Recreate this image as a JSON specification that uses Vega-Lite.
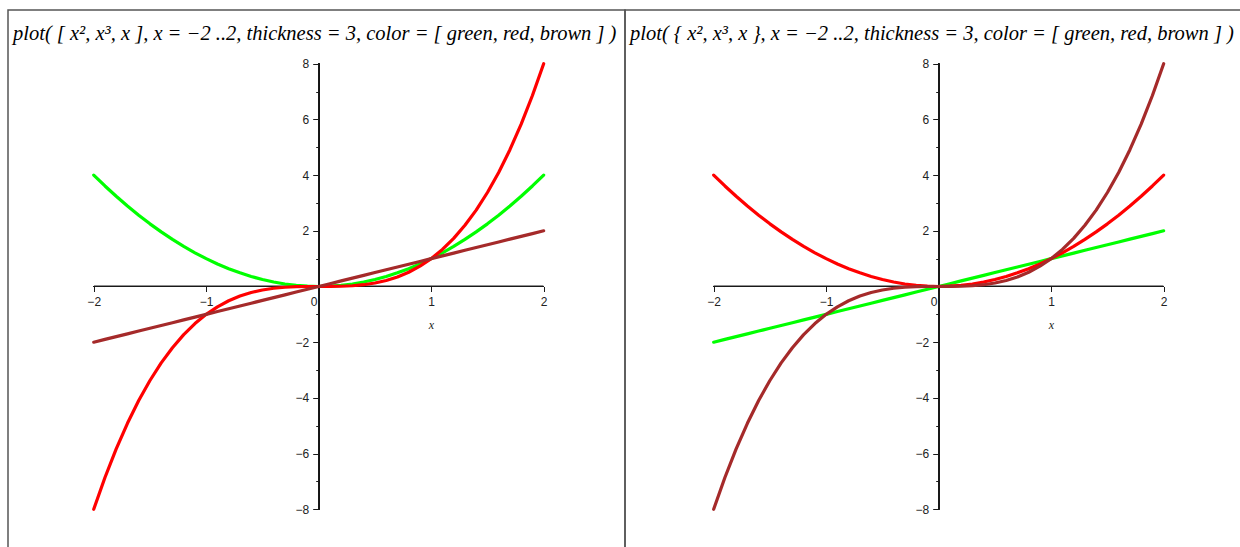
{
  "$schema": "https://vega.github.io/schema/vega-lite/v6.json",
  "padding": {"left": 7, "top": 9, "right": 0, "bottom": 0},
  "spacing": 0,
  "bounds": "flush",
  "config": {
    "view": {"stroke": "#555555", "strokeWidth": 1.5},
    "concat": {"spacing": 0},
    "axis": {"labelOverlap": false, "labelFlush": false, "grid": false, "domain": false, "tickCount": 100},
    "line": {"strokeWidth": 3.2, "strokeCap": "round", "strokeJoin": "round"}
  },
  "datasets": {
    "curves": [
      {"x": -2.0, "sq": 4.0, "cu": -8.0, "lin": -2.0},
      {"x": -1.9, "sq": 3.61, "cu": -6.859, "lin": -1.9},
      {"x": -1.8, "sq": 3.24, "cu": -5.832, "lin": -1.8},
      {"x": -1.7, "sq": 2.89, "cu": -4.913, "lin": -1.7},
      {"x": -1.6, "sq": 2.56, "cu": -4.096, "lin": -1.6},
      {"x": -1.5, "sq": 2.25, "cu": -3.375, "lin": -1.5},
      {"x": -1.4, "sq": 1.96, "cu": -2.744, "lin": -1.4},
      {"x": -1.3, "sq": 1.69, "cu": -2.197, "lin": -1.3},
      {"x": -1.2, "sq": 1.44, "cu": -1.728, "lin": -1.2},
      {"x": -1.1, "sq": 1.21, "cu": -1.331, "lin": -1.1},
      {"x": -1.0, "sq": 1.0, "cu": -1.0, "lin": -1.0},
      {"x": -0.9, "sq": 0.81, "cu": -0.729, "lin": -0.9},
      {"x": -0.8, "sq": 0.64, "cu": -0.512, "lin": -0.8},
      {"x": -0.7, "sq": 0.49, "cu": -0.343, "lin": -0.7},
      {"x": -0.6, "sq": 0.36, "cu": -0.216, "lin": -0.6},
      {"x": -0.5, "sq": 0.25, "cu": -0.125, "lin": -0.5},
      {"x": -0.4, "sq": 0.16, "cu": -0.064, "lin": -0.4},
      {"x": -0.3, "sq": 0.09, "cu": -0.027, "lin": -0.3},
      {"x": -0.2, "sq": 0.04, "cu": -0.008, "lin": -0.2},
      {"x": -0.1, "sq": 0.01, "cu": -0.001, "lin": -0.1},
      {"x": 0.0, "sq": 0.0, "cu": 0.0, "lin": 0.0},
      {"x": 0.1, "sq": 0.01, "cu": 0.001, "lin": 0.1},
      {"x": 0.2, "sq": 0.04, "cu": 0.008, "lin": 0.2},
      {"x": 0.3, "sq": 0.09, "cu": 0.027, "lin": 0.3},
      {"x": 0.4, "sq": 0.16, "cu": 0.064, "lin": 0.4},
      {"x": 0.5, "sq": 0.25, "cu": 0.125, "lin": 0.5},
      {"x": 0.6, "sq": 0.36, "cu": 0.216, "lin": 0.6},
      {"x": 0.7, "sq": 0.49, "cu": 0.343, "lin": 0.7},
      {"x": 0.8, "sq": 0.64, "cu": 0.512, "lin": 0.8},
      {"x": 0.9, "sq": 0.81, "cu": 0.729, "lin": 0.9},
      {"x": 1.0, "sq": 1.0, "cu": 1.0, "lin": 1.0},
      {"x": 1.1, "sq": 1.21, "cu": 1.331, "lin": 1.1},
      {"x": 1.2, "sq": 1.44, "cu": 1.728, "lin": 1.2},
      {"x": 1.3, "sq": 1.69, "cu": 2.197, "lin": 1.3},
      {"x": 1.4, "sq": 1.96, "cu": 2.744, "lin": 1.4},
      {"x": 1.5, "sq": 2.25, "cu": 3.375, "lin": 1.5},
      {"x": 1.6, "sq": 2.56, "cu": 4.096, "lin": 1.6},
      {"x": 1.7, "sq": 2.89, "cu": 4.913, "lin": 1.7},
      {"x": 1.8, "sq": 3.24, "cu": 5.832, "lin": 1.8},
      {"x": 1.9, "sq": 3.61, "cu": 6.859, "lin": 1.9},
      {"x": 2.0, "sq": 4.0, "cu": 8.0, "lin": 2.0}
    ]
  },
  "hconcat": [
    {
      "width": 617,
      "height": 545,
      "title": {
        "text": "plot(  [ x², x³, x ], x = −2 ..2, thickness = 3, color = [ green, red, brown ] )",
        "anchor": "start", "frame": "group", "offset": -50, "baseline": "alphabetic", "dx": 5,
        "font": "Liberation Serif", "fontStyle": "italic", "fontWeight": "normal", "fontSize": 20.5, "color": "#000000"
      },
      "data": {"name": "curves"},
      "layer": [
        {
          "mark": {"type": "rule", "color": "#1a1a1a", "strokeWidth": 1},
          "encoding": {
            "x": {"datum": -2, "type": "quantitative", "scale": {"domain": [-2.762, 2.723], "nice": false, "zero": false}},
            "x2": {"datum": 2},
            "y": {"datum": 0, "type": "quantitative", "scale": {"domain": [-9.641, 9.928], "nice": false, "zero": false}}
          }
        },
        {
          "mark": {"type": "rule", "color": "#1a1a1a", "strokeWidth": 1},
          "encoding": {
            "x": {"datum": 0, "type": "quantitative", "scale": {"domain": [-2.762, 2.723], "nice": false, "zero": false}},
            "y": {"datum": -8, "type": "quantitative", "scale": {"domain": [-9.641, 9.928], "nice": false, "zero": false}},
            "y2": {"datum": 8}
          }
        },
        {
          "mark": {"type": "line", "color": "#00ff00"},
          "encoding": {
            "x": {"field": "x", "type": "quantitative", "scale": {"domain": [-2.762, 2.723], "nice": false, "zero": false}},
            "y": {"field": "sq", "type": "quantitative", "scale": {"domain": [-9.641, 9.928], "nice": false, "zero": false}}
          }
        },
        {
          "mark": {"type": "line", "color": "#ff0000"},
          "encoding": {
            "x": {"field": "x", "type": "quantitative", "scale": {"domain": [-2.762, 2.723], "nice": false, "zero": false}},
            "y": {"field": "cu", "type": "quantitative", "scale": {"domain": [-9.641, 9.928], "nice": false, "zero": false}}
          }
        },
        {
          "mark": {"type": "line", "color": "#a52a2a"},
          "encoding": {
            "x": {"field": "x", "type": "quantitative",
              "scale": {"domain": [-2.762, 2.723], "nice": false, "zero": false},
              "axis": {"orient": "bottom", "offset": -268.5, "domain": false, "grid": false, "tickCount": 100,
                "values": [-2, -1.5, -1, -0.5, 0, 0.5, 1, 1.5, 2], "format": "d",
                "tickSize": {"condition": {"test": "datum.value % 1 !== 0", "value": 3}, "value": 5},
                "tickColor": "#1a1a1a", "tickWidth": 1,
                "labelExpr": "datum.value % 1 === 0 ? datum.label : ''",
                "labelOffset": {"condition": {"test": "datum.value === 0", "value": -5}, "value": 0},
                "labelFont": "Liberation Sans", "labelFontSize": 12, "labelColor": "#222222", "labelPadding": 5,
                "labelOverlap": false, "labelFlush": false,
                "title": "x", "titleFont": "Liberation Serif", "titleFontStyle": "italic", "titleFontWeight": "normal",
                "titleFontSize": 12, "titleColor": "#222222", "titleX": 423, "titleY": 38, "titleAlign": "center", "titleBaseline": "middle"}},
            "y": {"field": "lin", "type": "quantitative",
              "scale": {"domain": [-9.641, 9.928], "nice": false, "zero": false},
              "axis": {"orient": "left", "offset": -310.7, "domain": false, "grid": false, "tickCount": 100,
                "values": [-8, -7, -6, -5, -4, -3, -2, -1, 1, 2, 3, 4, 5, 6, 7, 8], "format": "d",
                "tickSize": {"condition": {"test": "abs(datum.value) % 2 === 1", "value": 3}, "value": 6},
                "tickColor": "#1a1a1a", "tickWidth": 1,
                "labelExpr": "abs(datum.value) % 2 === 1 ? '' : datum.label",
                "labelFont": "Liberation Sans", "labelFontSize": 12, "labelColor": "#222222", "labelPadding": 4,
                "labelOverlap": false, "labelFlush": false, "title": null}}
          }
        }
      ]
    },
    {
      "width": 620,
      "height": 545,
      "title": {
        "text": "plot(  { x², x³, x }, x = −2 ..2, thickness = 3, color = [ green, red, brown ] )",
        "anchor": "start", "frame": "group", "offset": -50, "baseline": "alphabetic", "dx": 5,
        "font": "Liberation Serif", "fontStyle": "italic", "fontWeight": "normal", "fontSize": 20.5, "color": "#000000"
      },
      "data": {"name": "curves"},
      "layer": [
        {
          "mark": {"type": "rule", "color": "#1a1a1a", "strokeWidth": 1},
          "encoding": {
            "x": {"datum": -2, "type": "quantitative", "scale": {"domain": [-2.788, 2.723], "nice": false, "zero": false}},
            "x2": {"datum": 2},
            "y": {"datum": 0, "type": "quantitative", "scale": {"domain": [-9.641, 9.928], "nice": false, "zero": false}}
          }
        },
        {
          "mark": {"type": "rule", "color": "#1a1a1a", "strokeWidth": 1},
          "encoding": {
            "x": {"datum": 0, "type": "quantitative", "scale": {"domain": [-2.788, 2.723], "nice": false, "zero": false}},
            "y": {"datum": -8, "type": "quantitative", "scale": {"domain": [-9.641, 9.928], "nice": false, "zero": false}},
            "y2": {"datum": 8}
          }
        },
        {
          "mark": {"type": "line", "color": "#00ff00"},
          "encoding": {
            "x": {"field": "x", "type": "quantitative", "scale": {"domain": [-2.788, 2.723], "nice": false, "zero": false}},
            "y": {"field": "lin", "type": "quantitative", "scale": {"domain": [-9.641, 9.928], "nice": false, "zero": false}}
          }
        },
        {
          "mark": {"type": "line", "color": "#ff0000"},
          "encoding": {
            "x": {"field": "x", "type": "quantitative", "scale": {"domain": [-2.788, 2.723], "nice": false, "zero": false}},
            "y": {"field": "sq", "type": "quantitative", "scale": {"domain": [-9.641, 9.928], "nice": false, "zero": false}}
          }
        },
        {
          "mark": {"type": "line", "color": "#a52a2a"},
          "encoding": {
            "x": {"field": "x", "type": "quantitative",
              "scale": {"domain": [-2.788, 2.723], "nice": false, "zero": false},
              "axis": {"orient": "bottom", "offset": -268.5, "domain": false, "grid": false, "tickCount": 100,
                "values": [-2, -1.5, -1, -0.5, 0, 0.5, 1, 1.5, 2], "format": "d",
                "tickSize": {"condition": {"test": "datum.value % 1 !== 0", "value": 3}, "value": 5},
                "tickColor": "#1a1a1a", "tickWidth": 1,
                "labelExpr": "datum.value % 1 === 0 ? datum.label : ''",
                "labelOffset": {"condition": {"test": "datum.value === 0", "value": -5}, "value": 0},
                "labelFont": "Liberation Sans", "labelFontSize": 12, "labelColor": "#222222", "labelPadding": 5,
                "labelOverlap": false, "labelFlush": false,
                "title": "x", "titleFont": "Liberation Serif", "titleFontStyle": "italic", "titleFontWeight": "normal",
                "titleFontSize": 12, "titleColor": "#222222", "titleX": 426, "titleY": 38, "titleAlign": "center", "titleBaseline": "middle"}},
            "y": {"field": "cu", "type": "quantitative",
              "scale": {"domain": [-9.641, 9.928], "nice": false, "zero": false},
              "axis": {"orient": "left", "offset": -313.7, "domain": false, "grid": false, "tickCount": 100,
                "values": [-8, -7, -6, -5, -4, -3, -2, -1, 1, 2, 3, 4, 5, 6, 7, 8], "format": "d",
                "tickSize": {"condition": {"test": "abs(datum.value) % 2 === 1", "value": 3}, "value": 6},
                "tickColor": "#1a1a1a", "tickWidth": 1,
                "labelExpr": "abs(datum.value) % 2 === 1 ? '' : datum.label",
                "labelFont": "Liberation Sans", "labelFontSize": 12, "labelColor": "#222222", "labelPadding": 4,
                "labelOverlap": false, "labelFlush": false, "title": null}}
          }
        }
      ]
    }
  ]
}
